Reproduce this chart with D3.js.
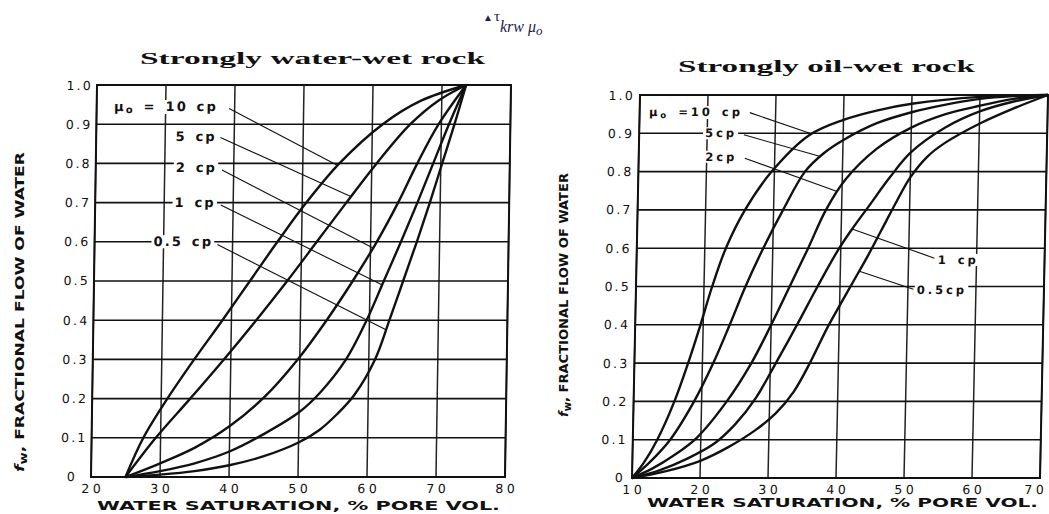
<!DOCTYPE html>
<html>
<head>
<meta charset="utf-8">
<script src="https://cdn.jsdelivr.net/npm/d3@7/dist/d3.min.js"></script>
<style>
  body { margin: 0; background: #fff; }
  svg text { font-family: "DejaVu Sans", sans-serif; fill: #111; }
</style>
</head>
<body>
<svg id="chart" width="1049" height="514"></svg>
<script>
// ---- data: [Sw (% PV), fw] ----
const yTicks = [0, 0.1, 0.2, 0.3, 0.4, 0.5, 0.6, 0.7, 0.8, 0.9, 1.0];
const yTickLabels = ["0", "0.1", "0.2", "0.3", "0.4", "0.5", "0.6", "0.7", "0.8", "0.9", "1.0"];

// strongly water-wet rock
const wwXTicks = [20, 30, 40, 50, 60, 70, 80];
const ww10 = [[25,0],[27.5,0.1],[30.9,0.2],[34.7,0.3],[38.7,0.4],[42.6,0.5],[46.5,0.6],[50.6,0.7],[55.3,0.8],[61.5,0.9],[67,0.96],[73.5,1]];
const ww5  = [[25,0],[29.3,0.1],[34.2,0.2],[39,0.3],[43.6,0.4],[48,0.5],[52.2,0.6],[56.4,0.7],[60.7,0.8],[65.5,0.9],[69.5,0.96],[73.5,1]];
const ww2  = [[25,0],[30,0.035],[35,0.075],[40,0.13],[45,0.205],[49.7,0.3],[53.8,0.4],[57.5,0.5],[60.9,0.6],[63.9,0.7],[66.6,0.8],[69.6,0.9],[73.5,1]];
const ww1  = [[25,0],[30,0.015],[35,0.035],[40,0.065],[45,0.11],[50,0.165],[53,0.215],[56.7,0.3],[59.6,0.4],[62,0.5],[64.4,0.6],[66.7,0.7],[68.9,0.8],[71.1,0.9],[73.5,1]];
const ww05 = [[25,0],[30,0.006],[35,0.015],[40,0.03],[45,0.053],[50,0.088],[53,0.12],[55.5,0.16],[58,0.21],[60.9,0.3],[62.9,0.4],[64.8,0.5],[66.7,0.6],[68.5,0.7],[70.2,0.8],[71.9,0.9],[73.5,1]];
const wwLabels = ["μo = 10 cp", "5 cp", "2 cp", "1 cp", "0.5 cp"];
const wwLabelAt = [[37.6,0.945],[37.5,0.868],[37.6,0.79],[37.5,0.7],[37.2,0.6]];
const wwLeadFrom = [[39.2,0.94],[38,0.866],[38.3,0.783],[38.2,0.694],[37.8,0.593]];
const wwLeadTo = [[55,0.795],[57.1,0.715],[60.3,0.585],[61.8,0.49],[62.5,0.375]];

// strongly oil-wet rock
const owXTicks = [10, 20, 30, 40, 50, 60, 70];
const ow10 = [[10,0],[11.7,0.04],[13.6,0.1],[16,0.2],[17.9,0.3],[19.6,0.4],[21.2,0.5],[23.1,0.6],[25.8,0.7],[29.6,0.8],[35,0.895],[40,0.935],[45,0.96],[50,0.977],[60,0.995],[70,1]];
const ow5  = [[10,0],[12.5,0.04],[15.5,0.1],[18.9,0.2],[21.6,0.3],[23.9,0.4],[26.1,0.5],[28.6,0.6],[31.4,0.7],[34.5,0.8],[37.2,0.848],[40,0.882],[45,0.927],[50,0.955],[55,0.975],[60,0.99],[65,0.997],[70,1]];
const ow2  = [[10,0],[13,0.025],[16,0.058],[19.4,0.105],[23.7,0.2],[27.2,0.3],[30,0.4],[32.6,0.5],[35.2,0.6],[37.7,0.7],[40.5,0.78],[45,0.86],[50,0.915],[55,0.95],[60,0.972],[65,0.99],[70,1]];
const ow1  = [[10,0],[14,0.02],[18,0.05],[22,0.09],[25,0.14],[28,0.21],[30.8,0.3],[33.8,0.4],[36.7,0.5],[39.6,0.595],[41.6,0.65],[44,0.71],[47,0.785],[50,0.85],[55,0.915],[60,0.957],[65,0.983],[70,1]];
const ow05 = [[10,0],[15,0.018],[20,0.045],[24,0.08],[28,0.125],[31,0.17],[33.5,0.225],[35.8,0.3],[38.2,0.39],[40,0.45],[42,0.515],[44,0.58],[46,0.65],[48,0.72],[50,0.785],[52.5,0.84],[55,0.875],[60,0.925],[65,0.965],[70,1]];
const owLabels = ["μo =10 cp", "5cp", "2cp", "1 cp", "0.5cp"];
const owLabelAt = [[25.2,0.956],[24.4,0.9],[24.5,0.839],[54.3,0.569],[51.3,0.491]];
const owLeadFrom = [[26.2,0.954],[25.4,0.896],[25.6,0.835],[41.6,0.65],[42.8,0.54]];
const owLeadTo = [[35.1,0.9],[36.6,0.84],[39.3,0.748],[53.8,0.574],[50.8,0.493]];

const svg = d3.select("#chart");

function panel(o) {
  const ang = -Math.atan(o.skew / o.h) * 180 / Math.PI;
  const g = svg.append("g")
    .attr("transform", `translate(${o.left + o.skew},${o.top}) skewX(${ang})`);
  const x = d3.scaleLinear().domain(o.xDomain).range([0, o.w]);
  const y = d3.scaleLinear().domain([0, 1]).range([o.h, 0]);

  // grid
  g.selectAll("line.vg").data(o.xTicks).join("line").attr("class", "vg")
    .attr("x1", d => x(d)).attr("x2", d => x(d)).attr("y1", 0).attr("y2", o.h)
    .attr("stroke", "#222").attr("stroke-width", 1.5);
  g.selectAll("line.hg").data(yTicks).join("line").attr("class", "hg")
    .attr("x1", 0).attr("x2", o.w).attr("y1", d => y(d)).attr("y2", d => y(d))
    .attr("stroke", "#111").attr("stroke-width", 1.6);
  g.append("rect").attr("width", o.w).attr("height", o.h)
    .attr("fill", "none").attr("stroke", "#111").attr("stroke-width", 2);

  // labels with white backing (they break the grid lines)
  const lab = g.append("g");
  o.labels.forEach((t, i) => {
    const p = o.labelAt[i];
    const txt = lab.append("text")
      .attr("x", x(p[0])).attr("y", y(p[1])).attr("dy", "0.35em")
      .attr("text-anchor", o.anchor[i])
      .style("font-size", o.labelSize + "px").style("font-weight", "bold")
      .style("letter-spacing", o.labelSpace + "px").style("word-spacing", "2px");
    if (t.startsWith("μo")) {
      txt.append("tspan").text("μ");
      txt.append("tspan").text("o").attr("dy", 2).style("font-size", (o.labelSize - 3) + "px");
      txt.append("tspan").text(t.slice(2)).attr("dy", -2);
    } else txt.text(t);
    const b = txt.node().getBBox();
    lab.insert("rect", "text").attr("x", b.x - 2).attr("y", b.y + 1)
      .attr("width", b.width + 3).attr("height", b.height - 2).attr("fill", "#fff");
  });

  // leader lines
  g.selectAll("line.lead").data(o.leadFrom).join("line").attr("class", "lead")
    .attr("x1", d => x(d[0])).attr("y1", d => y(d[1]))
    .attr("x2", (d, i) => x(o.leadTo[i][0])).attr("y2", (d, i) => y(o.leadTo[i][1]))
    .attr("stroke", "#111").attr("stroke-width", 1.1);

  // curves
  const line = d3.line().x(d => x(d[0])).y(d => y(d[1])).curve(d3.curveCatmullRom.alpha(0.5));
  g.selectAll("path.fw").data(o.curves).join("path").attr("class", "fw")
    .attr("d", line).attr("fill", "none").attr("stroke", "#111")
    .attr("stroke-width", 2.4).attr("stroke-linejoin", "round");

  // tick labels
  g.selectAll("text.yt").data(yTicks).join("text").attr("class", "yt")
    .attr("x", (d, i) => i === 0 ? o.yLabX - o.zeroShift : o.yLabX)
    .attr("y", d => y(d)).attr("dy", "0.36em").attr("text-anchor", "end")
    .style("font-size", "12.5px").style("letter-spacing", "2.2px")
    .text((d, i) => yTickLabels[i]);
  g.selectAll("text.xt").data(o.xTicks).join("text").attr("class", "xt")
    .attr("x", (d, i) => x(d) + 2 - (i === o.xTicks.length - 1 ? o.lastShift : 0))
    .attr("y", o.h + 16).attr("text-anchor", "middle")
    .style("font-size", "12.5px").style("letter-spacing", "3.5px")
    .text(d => d);
}

panel({
  left: 91, top: 85, w: 414, h: 392, skew: 6, xDomain: [20, 80], xTicks: wwXTicks,
  curves: [ww10, ww5, ww2, ww1, ww05],
  labels: wwLabels, labelAt: wwLabelAt, leadFrom: wwLeadFrom, leadTo: wwLeadTo,
  anchor: ["end", "end", "end", "end", "end"], labelSize: 13, labelSpace: 2.2,
  yLabX: -4, zeroShift: 10, lastShift: 0
});
panel({
  left: 632, top: 95, w: 408, h: 383, skew: 8, xDomain: [10, 70], xTicks: owXTicks,
  curves: [ow10, ow5, ow2, ow1, ow05],
  labels: owLabels, labelAt: owLabelAt, leadFrom: owLeadFrom, leadTo: owLeadTo,
  anchor: ["end", "end", "end", "start", "start"], labelSize: 11.5, labelSpace: 3,
  yLabX: -5, zeroShift: 2, lastShift: 6
});

// titles
function title(txt, x, y, len) {
  svg.append("text").attr("x", x).attr("y", y).attr("textLength", len)
    .attr("lengthAdjust", "spacingAndGlyphs")
    .style("font-family", "'Liberation Serif', serif").style("font-weight", "bold")
    .style("font-size", "17px").text(txt);
}
title("Strongly water-wet rock", 140, 64, 345);
title("Strongly oil-wet rock", 678, 72, 297);

// axis titles
function xTitle(x, y, len) {
  svg.append("text").attr("x", x).attr("y", y).attr("textLength", len)
    .attr("lengthAdjust", "spacingAndGlyphs")
    .style("font-size", "13px").style("font-weight", "bold")
    .text("WATER SATURATION, % PORE VOL.");
}
xTitle(97, 510, 403);
xTitle(647, 507, 391);

function yTitle(cx, cy, len) {
  const t = svg.append("text").attr("transform", `translate(${cx},${cy}) rotate(-90)`)
    .attr("text-anchor", "middle").attr("textLength", len).attr("lengthAdjust", "spacingAndGlyphs")
    .style("font-family", "'DejaVu Sans Condensed', 'Liberation Sans Narrow', sans-serif")
    .style("font-size", "13px").style("font-weight", "bold");
  t.append("tspan").text("f").style("font-style", "italic");
  t.append("tspan").text("w").attr("dy", 3).style("font-size", "10px");
  t.append("tspan").text(", FRACTIONAL FLOW OF WATER").attr("dy", -3);
}
yTitle(24, 312, 320);
yTitle(568, 295, 244);

// stray formula fragment at top
const f = svg.append("text").attr("x", 483).attr("y", 21)
  .style("font-family", "'Liberation Serif', serif").style("fill", "#1c1c48");
f.append("tspan").text("▲").style("font-size", "10px");
f.append("tspan").text("τ").style("font-size", "15px").attr("dx", 1);
f.append("tspan").text("krw μ").attr("dy", 11).style("font-size", "16px").style("font-style", "italic");
f.append("tspan").text("o").attr("dy", 3).style("font-size", "13px").style("font-style", "italic");
</script>
</body>
</html>
